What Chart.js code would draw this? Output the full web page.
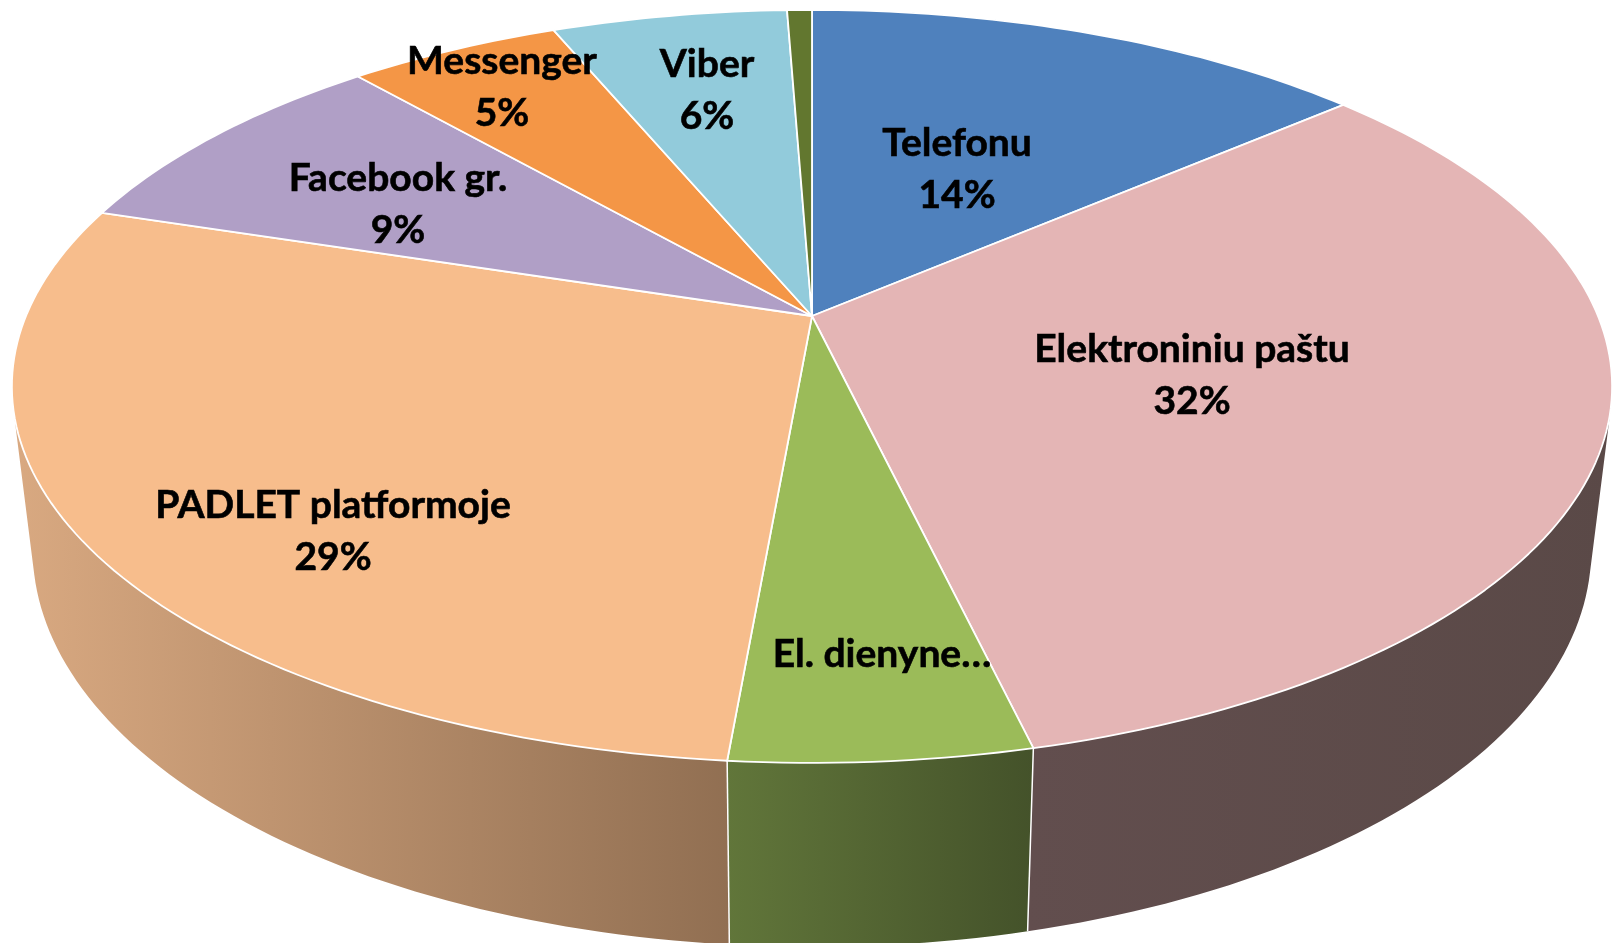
<!DOCTYPE html>
<html>
<head>
<meta charset="utf-8">
<title>Pie</title>
<script src="https://cdn.jsdelivr.net/npm/chart.js@4"></script>
<style>
  html, body { margin: 0; padding: 0; background: #fff; overflow: hidden; }
  canvas { display: block; }
</style>
</head>
<body>
<canvas id="myChart" width="1612" height="943"></canvas>
<script>
/* globals Chart:false */

// data
const categories = ['Telefonu', 'Elektroniniu paštu', 'El. dienyne…', 'PADLET platformoje', 'Facebook gr.', 'Messenger', 'Viber', ''];
const values = [13.7, 32.6, 5.1, 28.45, 8.7, 5.15, 5.7, 0.6];
const percentLabels = ['14%', '32%', '', '29%', '9%', '5%', '6%', ''];

// styles
const topColors = ['#4f81bd', '#e4b5b5', '#9bbb59', '#f7bd8c', '#b09fc6', '#f49646', '#92cbdb', '#62772f'];
const wallFrom = ['#3f6797', '#624e4e', '#61763a', '#d9a981', '#8d7f9e', '#c37838', '#74a2af', '#4e5f26'];
const wallTo = ['#3f6797', '#5a4947', '#44522a', '#916f52', '#8d7f9e', '#c37838', '#74a2af', '#4e5f26'];
const labelCenters = [[957, 143], [1192, 349], [882, 654], [333, 505], [398, 178], [502, 61], [707, 64], [0, 0]];

// perspective of the tilted disc
const apex = { x: 812, y: 316 };
const tilt = { a: 786, b: 363.3, k: -0.187, shrink: 0.974, drop: 159 };

function topPoint(angle) {
    const u = Math.cos(angle), v = Math.sin(angle);
    const d = 1 + tilt.k * v;
    return [apex.x + tilt.a * u / d, apex.y + tilt.b * v / d];
}

function lowPoint(angle) {
    const u = Math.cos(angle), v = Math.sin(angle);
    const d = 1 + tilt.k * v;
    return [apex.x + tilt.a * tilt.shrink * u / d, apex.y + (tilt.b * tilt.shrink * v + tilt.drop) / d];
}

function arcPoints(fn, start, end) {
    const steps = Math.max(2, Math.ceil((end - start) / 0.02));
    const pts = [];
    for (let i = 0; i <= steps; i++) {
        pts.push(fn(start + (end - start) * i / steps));
    }
    return pts;
}

function tracePath(ctx, pts) {
    ctx.beginPath();
    pts.forEach((p, i) => (i ? ctx.lineTo(p[0], p[1]) : ctx.moveTo(p[0], p[1])));
    ctx.closePath();
}

// wall of one slice as small quads, all wound the same way so they fill as a union
function traceWall(ctx, upper, lower) {
    ctx.beginPath();
    for (let i = 0; i < upper.length - 1; i++) {
        const q = [upper[i], upper[i + 1], lower[i + 1], lower[i]];
        let area = 0;
        q.forEach((p, j) => {
            const n = q[(j + 1) % 4];
            area += p[0] * n[1] - n[0] * p[1];
        });
        if (area < 0) q.reverse();
        q.forEach((p, j) => (j ? ctx.lineTo(p[0], p[1]) : ctx.moveTo(p[0], p[1])));
        ctx.closePath();
    }
}

// pie controller that keeps the library's slice angles and draws them in 3D
class Pie3dController extends Chart.PieController {
    draw() {
        const ctx = this.chart.ctx;
        const arcs = this._cachedMeta.data;
        ctx.save();
        ctx.lineJoin = 'round';

        // side walls first, the top hides the back of them
        arcs.forEach((arc, i) => {
            const upper = arcPoints(topPoint, arc.startAngle, arc.endAngle);
            const lower = arcPoints(lowPoint, arc.startAngle, arc.endAngle);
            const xs = upper.map(p => p[0]).concat(lower.map(p => p[0]));
            const grad = ctx.createLinearGradient(Math.min(...xs), 0, Math.max(...xs), 0);
            grad.addColorStop(0, wallFrom[i]);
            grad.addColorStop(1, wallTo[i]);
            traceWall(ctx, upper, lower);
            ctx.fillStyle = grad;
            ctx.fill();
        });
        ctx.strokeStyle = '#fff';
        ctx.lineWidth = 1.5;
        arcs.forEach(arc => {
            const a = topPoint(arc.startAngle), b = lowPoint(arc.startAngle);
            ctx.beginPath();
            ctx.moveTo(a[0], a[1]);
            ctx.lineTo(b[0], b[1]);
            ctx.stroke();
        });

        // top of the pie
        arcs.forEach((arc, i) => {
            tracePath(ctx, [[apex.x, apex.y]].concat(arcPoints(topPoint, arc.startAngle, arc.endAngle)));
            ctx.fillStyle = topColors[i];
            ctx.fill();
            ctx.strokeStyle = '#fff';
            ctx.lineWidth = 1.8;
            ctx.stroke();
        });
        ctx.restore();
    }
}
Pie3dController.id = 'pie3d';
Chart.register(Pie3dController);

const sliceLabels = {
    id: 'sliceLabels',
    afterDatasetsDraw(chart) {
        const ctx = chart.ctx;
        ctx.save();
        ctx.font = 'bold 39px Lato';
        ctx.fillStyle = '#000';
        ctx.strokeStyle = '#000';
        ctx.lineWidth = 0.6;
        ctx.textAlign = 'center';
        ctx.textBaseline = 'middle';
        const put = (text, x, y) => {
            ctx.fillText(text, x, y);
            ctx.strokeText(text, x, y);
        };
        categories.forEach((name, i) => {
            const c = labelCenters[i];
            if (name) put(name, c[0], c[1]);
            if (percentLabels[i]) put(percentLabels[i], c[0], c[1] + 52);
        });
        ctx.restore();
    }
};

new Chart(document.getElementById('myChart').getContext('2d'), {
    type: 'pie3d',
    data: {
        labels: categories,
        datasets: [{ data: values, backgroundColor: topColors }]
    },
    options: {
        responsive: false,
        animation: false,
        plugins: {
            legend: { display: false },
            tooltip: { enabled: false }
        }
    },
    plugins: [sliceLabels]
});
</script>
</body>
</html>
